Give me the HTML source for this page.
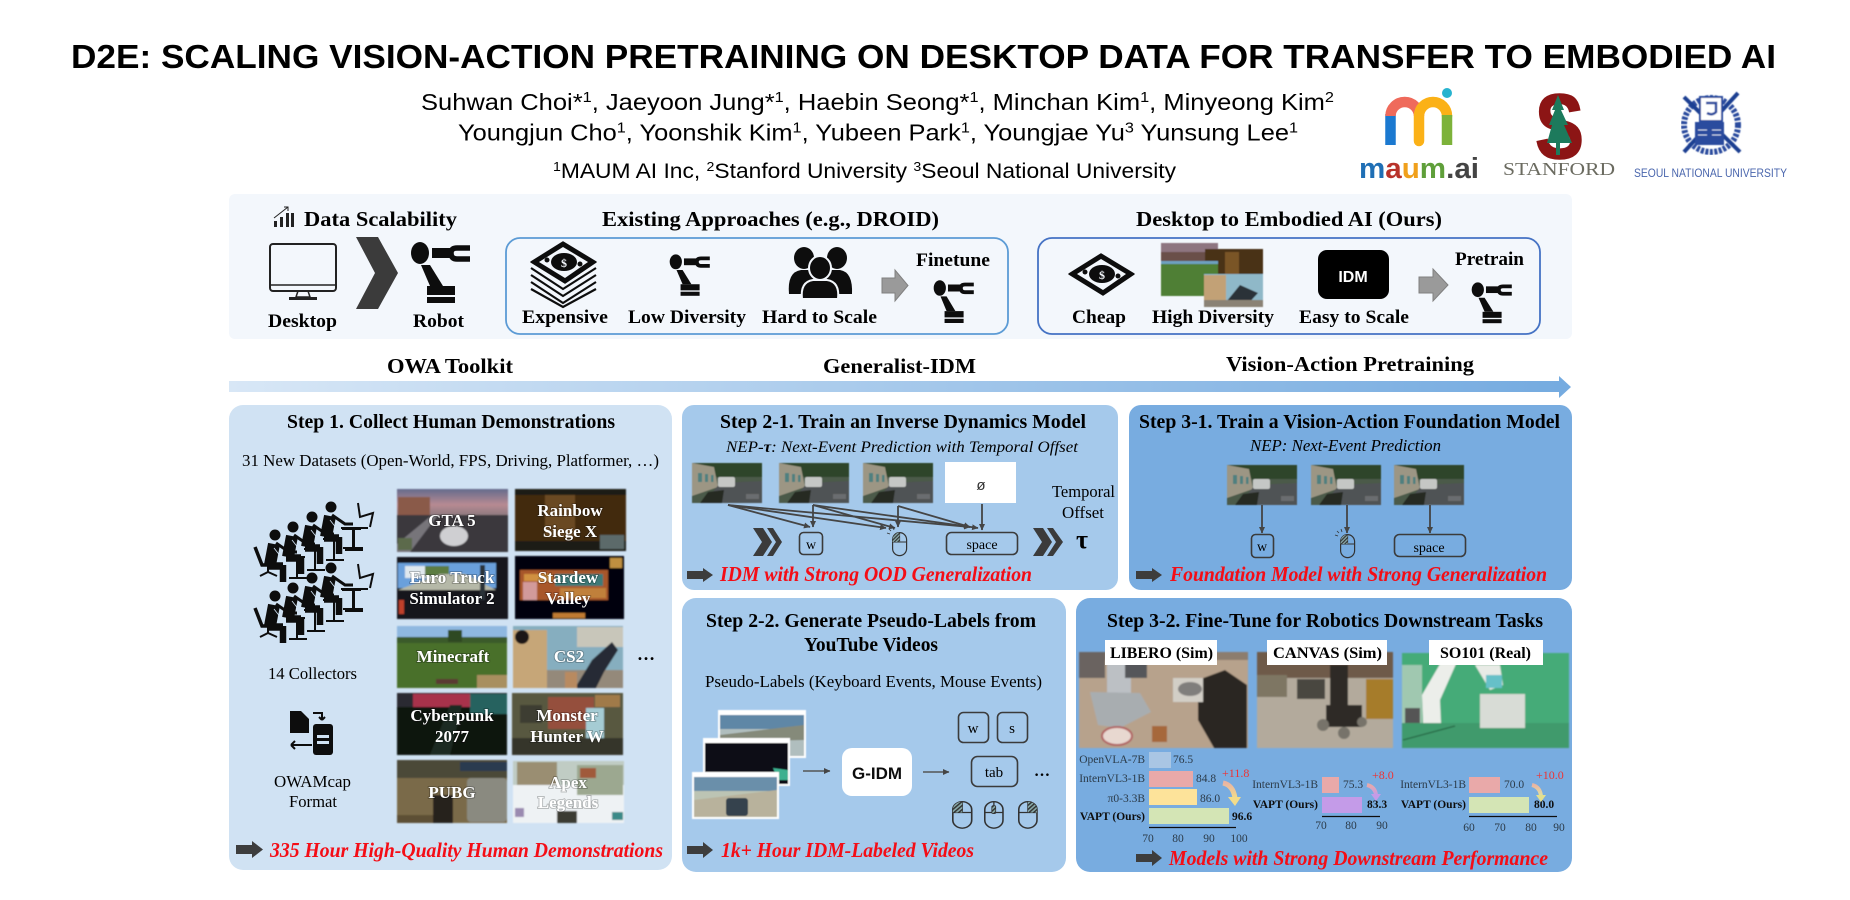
<!DOCTYPE html>
<html><head><meta charset="utf-8"><title>D2E</title>
<style>
html,body{margin:0;padding:0;background:#fff;width:1850px;height:900px;overflow:hidden}
svg{display:block}
text{font-family:"Liberation Serif",serif;fill:#000}
.s{font-family:"Liberation Sans",sans-serif}
.b{font-weight:700}
.h{font-weight:700;font-size:20px}
.l{font-weight:700;font-size:19px}
.n{font-size:17px}
.r{font-weight:700;font-style:italic;font-size:21px;fill:#f40b12}
.t{font-weight:700;font-size:17px;fill:#fff;text-anchor:middle;stroke:rgba(0,0,0,.22);stroke-width:2px;paint-order:stroke}
.c{font-size:11.5px;fill:#2c3a48}
.e{text-anchor:end}
.m{text-anchor:middle}
.d{font-size:12px;fill:#e33;font-weight:400}
.k{fill:none;stroke:#3a3a3a;stroke-width:1.6}
</style></head><body>
<svg width="1850" height="900" viewBox="0 0 1850 900" xmlns="http://www.w3.org/2000/svg">
<defs>
<filter id="bg" filterUnits="userSpaceOnUse" x="0" y="0" width="1850" height="900"><feGaussianBlur stdDeviation=".22"/></filter>
<filter id="bl" x="-5%" y="-5%" width="110%" height="110%"><feGaussianBlur stdDeviation=".7"/></filter>
<filter id="bs" x="-5%" y="-5%" width="110%" height="110%"><feGaussianBlur stdDeviation=".4"/></filter>
<linearGradient id="ga" x1="0" x2="1" y1="0" y2="0"><stop offset="0" stop-color="#d8e7f6"/><stop offset="1" stop-color="#75abe0"/></linearGradient>
<linearGradient id="c1" x1="0" x2="0" y1="0" y2="1"><stop offset="0" stop-color="#e9b5a2"/><stop offset="1" stop-color="#f3dc8a"/></linearGradient>
<linearGradient id="c2" x1="0" x2="0" y1="0" y2="1"><stop offset="0" stop-color="#e9a9a9"/><stop offset="1" stop-color="#c49be8"/></linearGradient>
<linearGradient id="c3" x1="0" x2="0" y1="0" y2="1"><stop offset="0" stop-color="#e9b5a2"/><stop offset="1" stop-color="#dfe3a2"/></linearGradient>
<linearGradient id="gsky" x1="0" x2="0" y1="0" y2="1"><stop offset="0" stop-color="#646a8c"/><stop offset=".6" stop-color="#b78a92"/><stop offset="1" stop-color="#8f7a80"/></linearGradient>
<marker id="ah" markerWidth="7" markerHeight="7" refX="6" refY="3" orient="auto" markerUnits="userSpaceOnUse"><path d="M0 0L6.500 3L0 6z" fill="#444"/></marker>
<pattern id="hp" width="2.5" height="2.5" patternUnits="userSpaceOnUse" patternTransform="rotate(45)"><rect width="2.500" height="2.500" fill="#8aa"/><rect width="1.200" height="2.500" fill="#333"/></pattern>

<g id="rb">
<ellipse cx="10" cy="10" rx="9" ry="11" fill="#111"/>
<rect x="22" y="5" width="18" height="10" fill="#111"/>
<path d="M60 5 H47 Q41 5 41 10 Q41 16 47 16 H60" fill="none" stroke="#111" stroke-width="5.500"/>
<path d="M11 22 L20 22 L33 43 L20 43z" fill="#111"/>
<rect x="17" y="43" width="28" height="9" fill="#111"/>
<rect x="17" y="54" width="28" height="6" fill="#111"/>
</g>

<g id="mo">
<polygon points="32,0 65,20 34,41 0,20" fill="#111" stroke="#111" stroke-width="1.500" stroke-linejoin="round"/>
<polygon points="32,5 57,20 34,36 8,20" fill="#f3f7fc"/>
<ellipse cx="33" cy="20" rx="13" ry="9" fill="#111"/>
<text x="33" y="25" font-size="12" class="m b" style="fill:#f3f7fc">$</text>
<circle cx="16" cy="18" r="2.500" fill="#111"/><circle cx="49" cy="22" r="2.500" fill="#111"/>
</g>

<g id="gf">
<rect width="70" height="40" fill="#4b5a4a"/>
<rect width="70" height="14" fill="#2f452c"/>
<polygon points="0,0 22,4 26,24 0,33" fill="#9c9684"/>
<rect x="6" y="10" width="4" height="9" fill="#4f8080"/><rect x="13" y="11" width="3" height="8" fill="#4f8080"/><rect x="19" y="12" width="2.500" height="7" fill="#4f8080"/>
<polygon points="12,40 28,20 70,18 70,40" fill="#4f5255"/>
<rect x="26" y="14" width="17" height="10" rx="2" fill="#c5c7c5"/>
<polygon points="8,40 16,29 32,27 30,40" fill="#262924"/>
<rect x="54" y="31" width="13" height="5" fill="#6a6d70"/>
</g>

<g id="ms">
<rect x=".6" y=".6" width="14" height="23" rx="7" fill="none" stroke="#333" stroke-width="1.200"/>
<path d="M.6 10 H14.600" stroke="#333" stroke-width="1" fill="none"/>
<path d="M7.600 .6 V10" stroke="#333" stroke-width="1" fill="none"/>
</g>

<g id="wk">
<circle cx="0" cy="0" r="5.500" fill="#111"/>
<path d="M-1 9 L-5 30" fill="none" stroke="#111" stroke-width="12"/>
<path d="M-7 31 H8" fill="none" stroke="#111" stroke-width="7.500"/>
<path d="M8 30 V47" fill="none" stroke="#111" stroke-width="6.500"/>
<path d="M1 8 L14 17 H22" fill="none" stroke="#111" stroke-width="3"/>
<path d="M-1 13 L6 22" fill="none" stroke="#d0e2f3" stroke-width=".8"/>
<path d="M11 22 H30 M22 22 V42 M14 43 H32" fill="none" stroke="#111" stroke-width="2"/>
</g>
<g id="wg">
<use href="#wk" x="20" y="33"/><use href="#wk" x="38" y="25"/><use href="#wk" x="57" y="15"/><use href="#wk" x="76" y="5"/>
<path d="M0 45 L7 63 H16" fill="none" stroke="#111" stroke-width="3.500"/>
<path d="M13 63 V71 M5 74 L13 70 L22 74" fill="none" stroke="#111" stroke-width="2"/>
<path d="M103 1 L105 15 L118 11 L115 25 M113 26 H86 M99 26 V46 M88 46 H108" fill="none" stroke="#111" stroke-width="2"/>
</g>
</defs>

<rect width="1850" height="900" fill="#fff"/>

<!-- Header -->
<text class="s b" x="71" y="68" font-size="33" textLength="1705" lengthAdjust="spacingAndGlyphs" style="fill:#000">D2E: SCALING VISION-ACTION PRETRAINING ON DESKTOP DATA FOR TRANSFER TO EMBODIED AI</text>
<text class="s" x="421" y="110" font-size="23.500" textLength="913" lengthAdjust="spacingAndGlyphs">Suhwan Choi*<tspan font-size="15" dy="-8">1</tspan><tspan dy="8">, Jaeyoon Jung*</tspan><tspan font-size="15" dy="-8">1</tspan><tspan dy="8">, Haebin Seong*</tspan><tspan font-size="15" dy="-8">1</tspan><tspan dy="8">, Minchan Kim</tspan><tspan font-size="15" dy="-8">1</tspan><tspan dy="8">, Minyeong Kim</tspan><tspan font-size="15" dy="-8">2</tspan></text>
<text class="s" x="458" y="140.500" font-size="23.500" textLength="840" lengthAdjust="spacingAndGlyphs">Youngjun Cho<tspan font-size="15" dy="-8">1</tspan><tspan dy="8">, Yoonshik Kim</tspan><tspan font-size="15" dy="-8">1</tspan><tspan dy="8">, Yubeen Park</tspan><tspan font-size="15" dy="-8">1</tspan><tspan dy="8">, Youngjae Yu</tspan><tspan font-size="15" dy="-8">3</tspan><tspan dy="8"> Yunsung Lee</tspan><tspan font-size="15" dy="-8">1</tspan></text>
<text class="s" x="553" y="178" font-size="21" textLength="623" lengthAdjust="spacingAndGlyphs"><tspan font-size="13" dy="-7">1</tspan><tspan dy="7">MAUM AI Inc, </tspan><tspan font-size="13" dy="-7">2</tspan><tspan dy="7">Stanford University  </tspan><tspan font-size="13" dy="-7">3</tspan><tspan dy="7">Seoul National University</tspan></text>

<!-- maum logo -->
<g fill="none" stroke-width="10.500">
<path d="M1390.500 145 V114" stroke="#1b79d0"/>
<path d="M1390.500 116 A14.250 14 0 0 1 1419 116" stroke="#ef6a5b"/>
<path d="M1419 141 V116 A14 14 0 0 1 1447 116" stroke="#fbb117" stroke-linecap="round"/>
<path d="M1447 115 V145" stroke="#7db23a"/>
</g>
<circle cx="1447" cy="93" r="5" fill="#27b3cf"/>
<text class="s b" x="1359" y="178" font-size="29" textLength="120" lengthAdjust="spacingAndGlyphs"><tspan style="fill:#1f6fb5">m</tspan><tspan style="fill:#b8322a">a</tspan><tspan style="fill:#f0a01c">u</tspan><tspan style="fill:#5f9f3a">m</tspan><tspan style="fill:#444">.ai</tspan></text>
<!-- Stanford -->
<text class="s b" x="1535" y="158" font-size="92" textLength="49" lengthAdjust="spacingAndGlyphs" style="fill:#8c1515;stroke:#8c1515;stroke-width:1.500">S</text>
<polygon points="1558,95 1564,110 1561,110 1568,125 1564,125 1572,143 1560,143 1560,155 1556,155 1556,143 1547,143 1552,125 1549,125 1555,110 1552,110" fill="#1d7a5c"/>
<text x="1503" y="175" font-size="18" textLength="112" lengthAdjust="spacingAndGlyphs" style="fill:#6b6b60">STANFORD</text>
<!-- SNU -->
<g filter="url(#bs)">
<ellipse cx="1711" cy="125" rx="27" ry="27" fill="none" stroke="#2c4c9e" stroke-width="6" stroke-dasharray="3 1.500"/>
<path d="M1684 97 L1740 152 M1738 93 L1684 152" stroke="#1f3f92" stroke-width="4"/>
<rect x="1700" y="97" width="22" height="24" fill="#fff" stroke="#2c4c9e" stroke-width="2"/>
<path d="M1706 103 H1716 V112 Q1712 116 1707 113" fill="none" stroke="#2c4c9e" stroke-width="2.500"/>
<rect x="1695" y="122" width="29" height="23" fill="#2c4c9e"/>
<path d="M1698 130 H1707 M1698 135 H1707 M1712 130 H1721 M1712 135 H1721" stroke="#cdd8ee" stroke-width="1"/>
</g>
<text class="s" x="1634" y="177" font-size="12" textLength="153" lengthAdjust="spacingAndGlyphs" style="fill:#4a66ad">SEOUL NATIONAL UNIVERSITY</text>

<g filter="url(#bg)">
<!-- Top panel -->
<rect x="229" y="194" width="1343" height="145" rx="6" fill="#f3f7fc"/>
<g fill="#222"><rect x="274" y="221" width="3" height="6"/><rect x="280" y="217" width="3" height="10"/><rect x="286" y="213" width="3" height="14"/><rect x="291" y="213" width="3" height="14"/></g>
<path d="M274 218 L288 207 M284 207 H288 V211" fill="none" stroke="#222" stroke-width="1"/>
<text class="l" x="304" y="226" font-size="21" textLength="153" lengthAdjust="spacingAndGlyphs" style="font-size:21px">Data Scalability</text>
<text class="l" x="602" y="226" textLength="337" lengthAdjust="spacingAndGlyphs" style="font-size:21px">Existing Approaches (e.g., DROID)</text>
<text class="l" x="1136" y="226" textLength="306" lengthAdjust="spacingAndGlyphs" style="font-size:21px">Desktop to Embodied AI (Ours)</text>

<!-- monitor -->
<rect x="270" y="244" width="66" height="47" rx="3" fill="#f3f7fc" stroke="#222" stroke-width="2"/>
<path d="M270 285 H336" stroke="#222" stroke-width="1.500"/>
<path d="M298 291 L296 297 H310 L308 291" fill="none" stroke="#222" stroke-width="1.500"/>
<rect x="289" y="297" width="28" height="3" fill="#222"/>
<text class="l" x="268" y="327" textLength="69" lengthAdjust="spacingAndGlyphs">Desktop</text>
<polygon points="356,237 378,237 398,273 378,309 356,309 375,273" fill="#3a3a3a"/>
<use href="#rb" x="410" y="243"/>
<text class="l" x="413" y="327" textLength="51" lengthAdjust="spacingAndGlyphs">Robot</text>

<rect x="506" y="238" width="502" height="96" rx="14" fill="none" stroke="#5b9bd5" stroke-width="1.800"/>
<rect x="1038" y="238" width="502" height="96" rx="14" fill="none" stroke="#4472c4" stroke-width="1.800"/>

<!-- Expensive -->
<g fill="none" stroke="#111" stroke-width="2.200">
<polyline points="531,268 563,289 596,268"/><polyline points="531,275 563,296 596,275"/><polyline points="531,282 563,303 596,282"/><polyline points="531,289 563,307 596,289"/>
</g>
<use href="#mo" transform="translate(531,242)"/>
<text class="l" x="522" y="323" textLength="86" lengthAdjust="spacingAndGlyphs">Expensive</text>
<!-- Low diversity -->
<use href="#rb" transform="translate(669,255) scale(.68)"/>
<text class="l" x="628" y="323" textLength="118" lengthAdjust="spacingAndGlyphs">Low Diversity</text>
<!-- people -->
<g fill="#111">
<ellipse cx="804" cy="258" rx="10" ry="11"/><ellipse cx="837" cy="258" rx="10" ry="11"/>
<path d="M789 294 Q787 272 801 270 H840 Q853 272 852 294z"/>
<ellipse cx="820" cy="268" rx="11" ry="12" stroke="#f3f7fc" stroke-width="2"/>
<path d="M802 299 Q800 282 813 280 H827 Q840 282 838 299z" stroke="#f3f7fc" stroke-width="2"/>
</g>
<text class="l" x="762" y="323" textLength="115" lengthAdjust="spacingAndGlyphs">Hard to Scale</text>
<polygon points="882,278 895,278 895,270 908,285.500 895,301 895,293 882,293" fill="#9a9a9a" stroke="#808080"/>
<text class="l" x="916" y="266" textLength="74" lengthAdjust="spacingAndGlyphs">Finetune</text>
<use href="#rb" transform="translate(933,281) scale(.68,.7)"/>

<!-- Cheap -->
<use href="#mo" x="1069" y="254"/>
<text class="l" x="1072" y="323" textLength="54" lengthAdjust="spacingAndGlyphs">Cheap</text>
<g filter="url(#bs)">
<rect x="1161" y="243" width="57" height="20" fill="#8e7580"/><rect x="1161" y="252" width="57" height="11" fill="#6a5048"/>
<rect x="1205" y="249" width="58" height="25" fill="#4a3018"/><rect x="1225" y="252" width="14" height="22" fill="#7a5528"/>
<rect x="1161" y="261" width="57" height="10" fill="#6ea0c0"/><rect x="1161" y="264" width="57" height="32" fill="#4f7f35"/>
<rect x="1204" y="274" width="59" height="33" fill="#8fb8c8"/><rect x="1204" y="275" width="22" height="32" fill="#c2a176"/><polygon points="1222,307 1240,285 1258,293 1245,307" fill="#2a3038"/><rect x="1204" y="300" width="59" height="7" fill="#8a8274"/>
</g>
<text class="l" x="1152" y="323" textLength="122" lengthAdjust="spacingAndGlyphs">High Diversity</text>
<rect x="1318" y="250" width="71" height="49" rx="9" fill="#000"/>
<text class="s b m" x="1353" y="282" font-size="16" style="fill:#fff">IDM</text>
<text class="l" x="1299" y="323" textLength="110" lengthAdjust="spacingAndGlyphs">Easy to Scale</text>
<polygon points="1419,277 1433,277 1433,269 1448,285 1433,301 1433,293 1419,293" fill="#9a9a9a" stroke="#808080"/>
<text class="l" x="1455" y="265" textLength="69" lengthAdjust="spacingAndGlyphs">Pretrain</text>
<use href="#rb" transform="translate(1471,283) scale(.68,.67)"/>

<!-- timeline -->
<text class="l" x="387" y="373" textLength="126" lengthAdjust="spacingAndGlyphs" style="font-size:21px">OWA Toolkit</text>
<text class="l" x="823" y="373" textLength="153" lengthAdjust="spacingAndGlyphs" style="font-size:21px">Generalist-IDM</text>
<text class="l" x="1226" y="371" textLength="248" lengthAdjust="spacingAndGlyphs" style="font-size:21px">Vision-Action Pretraining</text>
<rect x="229" y="381" width="1331" height="11" fill="url(#ga)"/>
<polygon points="1559,376 1571,387 1559,398" fill="#75abe0"/>

<!-- Panels -->
<rect x="229" y="405" width="443" height="465" rx="14" fill="#d0e2f3"/>
<rect x="682" y="405" width="436" height="185" rx="12" fill="#a5c9eb"/>
<rect x="682" y="598" width="384" height="274" rx="14" fill="#a5c9eb"/>
<rect x="1129" y="405" width="443" height="185" rx="12" fill="#78ace0"/>
<rect x="1076" y="598" width="496" height="274" rx="14" fill="#78ace0"/>

<!-- Step 1 -->
<text class="h" x="287" y="428" textLength="328" lengthAdjust="spacingAndGlyphs">Step 1. Collect Human Demonstrations</text>
<text class="n" x="242" y="466" textLength="417" lengthAdjust="spacingAndGlyphs">31 New Datasets (Open-World, FPS, Driving, Platformer, …)</text>
<use href="#wg" x="255" y="502"/>
<use href="#wg" x="255" y="563"/>
<text class="n" x="268" y="679" textLength="89" lengthAdjust="spacingAndGlyphs">14 Collectors</text>
<g fill="#111">
<path d="M290 711 H301 L309 719 V733 H290z"/>
<path d="M291 745 H312 M291 745 L295 741 M291 745 L295 749" stroke="#111" stroke-width="2" fill="none"/>
<path d="M313 713 H322 V720 M322 720 L319 717 M322 720 L325 717" stroke="#111" stroke-width="2" fill="none"/>
<rect x="313" y="724" width="20" height="31" rx="3"/>
<rect x="317" y="735" width="12" height="3" fill="#d0e2f3"/><rect x="317" y="741" width="12" height="3" fill="#d0e2f3"/>
</g>
<text class="n" x="274" y="787" textLength="77" lengthAdjust="spacingAndGlyphs">OWAMcap</text>
<text class="n" x="289" y="807" textLength="48" lengthAdjust="spacingAndGlyphs">Format</text>

<g filter="url(#bl)">
<!-- GTA -->
<rect x="397" y="489" width="111" height="63" fill="#3a383c"/><rect x="397" y="489" width="111" height="26" fill="url(#gsky)"/><rect x="398" y="497" width="32" height="18" fill="#8a5a48"/>
<polygon points="397,552 397,544 432,515 438,515 410,552" fill="#77747a"/><ellipse cx="454" cy="536" rx="14" ry="10" fill="#cfcfd2"/>
<rect x="398" y="538" width="14" height="12" fill="#5c6a4c"/>
<!-- Rainbow -->
<rect x="515" y="489" width="111" height="62" fill="#43290f"/><rect x="515" y="489" width="111" height="6" fill="#1e1a14"/><rect x="545" y="495" width="30" height="42" fill="#6a4a20"/><rect x="515" y="541" width="111" height="10" fill="#1f1a14"/><rect x="600" y="535" width="24" height="14" fill="#5b6a6a"/>
<!-- Euro -->
<rect x="397" y="557" width="111" height="62" fill="#15181c"/><rect x="398" y="563" width="98" height="25" fill="#6aa0dc"/><rect x="405" y="566" width="40" height="12" fill="#dfe8ee"/><rect x="425" y="566" width="24" height="10" fill="#5b7c42"/><polygon points="398,590 440,574 465,574 496,590" fill="#b5b8a8"/><rect x="397" y="592" width="111" height="27" fill="#14161a"/><rect x="480" y="565" width="5" height="35" fill="#2a3038"/><rect x="399" y="600" width="5" height="14" fill="#c0402a"/>
<!-- Stardew -->
<rect x="515" y="556" width="109" height="63" fill="#05050b"/><rect x="520" y="570" width="88" height="30" fill="#a8562a"/><rect x="523" y="582" width="14" height="18" fill="#d29a9a"/><rect x="524" y="574" width="28" height="7" fill="#d09040"/><rect x="555" y="574" width="48" height="12" fill="#3e7a78"/><rect x="560" y="588" width="46" height="10" fill="#c0803a"/><rect x="553" y="613" width="32" height="5" fill="#c07a30"/><rect x="610" y="558" width="12" height="10" fill="#c09040"/>
<!-- Minecraft -->
<rect x="397" y="626" width="110" height="62" fill="#4a6f2c"/><rect x="397" y="626" width="110" height="14" fill="#8fb8e0"/><rect x="397" y="637" width="110" height="6" fill="#3a5a2a"/><rect x="448" y="630" width="14" height="12" fill="#2e4a20"/><rect x="477" y="675" width="30" height="13" fill="#a88f5f"/><rect x="436" y="679" width="22" height="5" fill="#5a3a30"/>
<!-- CS2 -->
<rect x="513" y="626" width="110" height="62" fill="#86aebf"/><rect x="513" y="630" width="34" height="58" fill="#c6a678"/><rect x="577" y="627" width="46" height="20" fill="#c8c6ba"/><rect x="547" y="670" width="76" height="18" fill="#94897a"/><polygon points="575,688 592,660 612,642 618,650 604,672 596,688" fill="#262c34"/><rect x="565" y="672" width="12" height="16" fill="#b88a60"/><circle cx="522" cy="637" r="7" fill="#1a1412"/>
<!-- Cyberpunk -->
<rect x="397" y="693" width="110" height="62" fill="#0c1410"/><rect x="397" y="693" width="110" height="14" fill="#2c2a30"/><rect x="413" y="694" width="58" height="13" fill="#a8304c"/><rect x="470" y="694" width="37" height="20" fill="#25625e"/><polygon points="430,755 450,705 462,705 450,755" fill="#1d2a24"/>
<!-- Monster -->
<rect x="512" y="693" width="111" height="62" fill="#585840"/><rect x="548" y="697" width="46" height="32" fill="#95503e"/><rect x="586" y="708" width="18" height="32" fill="#a5ccd4"/><rect x="595" y="695" width="25" height="12" fill="#a07a4a"/><rect x="512" y="738" width="111" height="17" fill="#35352a"/><rect x="520" y="705" width="22" height="18" fill="#3d3d30"/>
<!-- PUBG -->
<rect x="397" y="760" width="110" height="63" fill="#7a6a48"/><rect x="397" y="760" width="110" height="18" fill="#4c4a38"/><rect x="460" y="762" width="47" height="9" fill="#2a3a50"/><rect x="467" y="778" width="40" height="44" rx="4" fill="#8a8a80"/><rect x="433" y="795" width="20" height="28" fill="#25241e"/><rect x="397" y="815" width="36" height="8" fill="#5d4f36"/>
<!-- Apex -->
<rect x="513" y="761" width="111" height="62" fill="#eef2f4"/><rect x="513" y="761" width="111" height="24" fill="#c0ccc4"/><rect x="517" y="762" width="40" height="23" fill="#9a8e72"/><rect x="577" y="765" width="46" height="30" fill="#9ca890"/><rect x="580" y="768" width="16" height="10" fill="#a05a3a"/><rect x="557" y="811" width="20" height="12" fill="#3a3a30"/><rect x="515" y="808" width="9" height="9" fill="#9a8ab0"/><rect x="612" y="812" width="11" height="8" fill="#3a8a88"/>
</g>
<text class="t" x="452" y="526">GTA 5</text>
<text class="t" x="570" y="516">Rainbow</text><text class="t" x="570" y="537">Siege X</text>
<text class="t" x="452" y="583">Euro Truck</text><text class="t" x="452" y="604">Simulator 2</text>
<text class="t" x="568" y="583">Stardew</text><text class="t" x="568" y="604">Valley</text>
<text class="t" x="453" y="662">Minecraft</text><text class="t" x="569" y="662">CS2</text>
<text class="t" x="452" y="721">Cyberpunk</text><text class="t" x="452" y="742">2077</text>
<text class="t" x="567" y="721">Monster</text><text class="t" x="567" y="742">Hunter W</text>
<text class="t" x="452" y="798">PUBG</text>
<text class="t" x="568" y="788">Apex</text><text class="t" x="568" y="808">Legends</text>
<text class="b m" x="646" y="660" font-size="18">…</text>
<polygon points="236,845 252,845 252,841 263,849.500 252,858 252,854 236,854" fill="#3c3c3c"/>
<text class="r" x="270" y="857" textLength="393" lengthAdjust="spacingAndGlyphs">335 Hour High-Quality Human Demonstrations</text>

<!-- Step 2-1 -->
<text class="h" x="720" y="428" textLength="366" lengthAdjust="spacingAndGlyphs">Step 2-1. Train an Inverse Dynamics Model</text>
<text class="n" x="726" y="452" font-style="italic" textLength="352" lengthAdjust="spacingAndGlyphs" style="font-size:16px">NEP-<tspan font-weight="700">τ</tspan>: Next-Event Prediction with Temporal Offset</text>
<g filter="url(#bs)">
<use href="#gf" x="692" y="463"/><use href="#gf" x="779" y="463"/><use href="#gf" x="863" y="463"/>
</g>
<rect x="945" y="462" width="71" height="41" fill="#fff"/>
<text class="s m" x="981" y="490" font-size="15" style="fill:#333">ø</text>
<g fill="none" stroke="#444" stroke-width="1.800">
<path d="M728 505 L810 527" marker-end="url(#ah)"/><path d="M728 505 L886 528" marker-end="url(#ah)"/><path d="M728 505 L970 527" marker-end="url(#ah)"/>
<path d="M813 505 V527" marker-end="url(#ah)"/><path d="M813 505 L895 528" marker-end="url(#ah)"/><path d="M813 505 L978 528" marker-end="url(#ah)"/>
<path d="M898 506 V527" marker-end="url(#ah)"/><path d="M898 506 L970 527" marker-end="url(#ah)"/>
<path d="M982 504 V530" marker-end="url(#ah)"/>
</g>
<g fill="#3a3a3a">
<polygon points="753,528 763,528 772,542 763,556 753,556 762,542"/><polygon points="767,528 773,528 782,542 773,556 767,556 776,542"/>
<polygon points="1033,528 1043,528 1052,542 1043,556 1033,556 1042,542"/><polygon points="1047,528 1053,528 1063,542 1053,556 1047,556 1056,542"/>
</g>
<rect class="k" x="799.500" y="532.500" width="23" height="22" rx="4"/>
<text class="m" x="811" y="549" font-size="14">w</text>
<use href="#ms" x="892" y="532"/><path d="M892.600 542 V540 A7 7 0 0 1 899.600 532.600 V542z" fill="url(#hp)"/>
<path d="M889 529 L891 531 M893 527 L894 530 M887 533 L890 534" stroke="#333" stroke-width=".8"/>
<rect class="k" x="946.500" y="532.500" width="71" height="22" rx="5"/>
<text class="m" x="982" y="549" font-size="14">space</text>
<text class="n" x="1052" y="497" textLength="63" lengthAdjust="spacingAndGlyphs">Temporal</text>
<text class="n" x="1062" y="518" textLength="42" lengthAdjust="spacingAndGlyphs">Offset</text>
<text class="b m" x="1082" y="548" font-size="26">τ</text>
<polygon points="687,571 703,571 703,568 713,575 703,582 703,579 687,579" fill="#3c3c3c"/>
<text class="r" x="720" y="581" textLength="312" lengthAdjust="spacingAndGlyphs">IDM with Strong OOD Generalization</text>

<!-- Step 2-2 -->
<text class="h" x="706" y="627" textLength="330" lengthAdjust="spacingAndGlyphs">Step 2-2. Generate Pseudo-Labels from</text>
<text class="h" x="804" y="651" textLength="134" lengthAdjust="spacingAndGlyphs">YouTube Videos</text>
<text class="n" x="705" y="687" textLength="337" lengthAdjust="spacingAndGlyphs">Pseudo-Labels (Keyboard Events, Mouse Events)</text>
<g filter="url(#bs)">
<rect x="718" y="710" width="88" height="48" fill="#fff"/><rect x="720" y="715" width="84" height="41" fill="#b0bebe"/><rect x="720" y="715" width="84" height="14" fill="#5f87a6"/><polygon points="720,735 804,725 804,740 720,742" fill="#858a7a"/>
<rect x="703" y="738" width="87" height="48" fill="#fff"/><rect x="705" y="743" width="83" height="41" fill="#0b0c12"/><polygon points="773,768 788,770 788,780 778,780" fill="#3cb090"/>
<rect x="692" y="772" width="87" height="47" fill="#fff"/><rect x="694" y="777" width="83" height="40" fill="#bcc4b4"/><rect x="694" y="777" width="83" height="14" fill="#6a8faa"/><polygon points="694,800 777,790 777,817 694,817" fill="#b8b29c"/><rect x="726" y="798" width="22" height="18" rx="3" fill="#36424e"/>
</g>
<g fill="none" stroke="#555" stroke-width="1.500"><path d="M803 771 H830" marker-end="url(#ah)"/><path d="M923 772 H949" marker-end="url(#ah)"/></g>
<rect x="842" y="748" width="70" height="48" rx="10" fill="#fff"/>
<text class="s b m" x="877" y="779" font-size="17" style="fill:#111">G-IDM</text>
<rect class="k" x="958.500" y="712.500" width="30" height="30" rx="5"/>
<text class="m" x="973" y="733" font-size="15">w</text>
<rect class="k" x="997.500" y="712.500" width="30" height="30" rx="5"/>
<text class="m" x="1012" y="733" font-size="15">s</text>
<rect class="k" x="971.500" y="756.500" width="46" height="30" rx="6"/>
<text class="m" x="994" y="777" font-size="15">tab</text>
<text class="b m" x="1042" y="776" font-size="16">…</text>
<g transform="translate(952,801) scale(1.350,1.150)"><use href="#ms"/><path d="M.6 10 V8 A7 7 0 0 1 7.600 .6 V10z" fill="url(#hp)"/></g>
<g transform="translate(984,801) scale(1.300,1.150)"><use href="#ms"/><rect x="6" y="4" width="3" height="7" rx="1" fill="url(#hp)" stroke="#333" stroke-width=".6"/></g>
<g transform="translate(1018,801) scale(1.300,1.150)"><use href="#ms"/><path d="M14.600 10 V8 A7 7 0 0 0 7.600 .6 V10z" fill="url(#hp)"/></g>
<polygon points="687,846 703,846 703,842 713,850 703,858 703,854 687,854" fill="#3c3c3c"/>
<text class="r" x="721" y="857" textLength="253" lengthAdjust="spacingAndGlyphs">1k+ Hour IDM-Labeled Videos</text>

<!-- Step 3-1 -->
<text class="h" x="1139" y="428" textLength="421" lengthAdjust="spacingAndGlyphs">Step 3-1. Train a Vision-Action Foundation Model</text>
<text class="n" x="1250" y="451" font-style="italic" textLength="191" lengthAdjust="spacingAndGlyphs">NEP: Next-Event Prediction</text>
<g filter="url(#bs)"><use href="#gf" x="1227" y="465"/><use href="#gf" x="1311" y="465"/><use href="#gf" x="1394" y="465"/></g>
<g fill="none" stroke="#444" stroke-width="1.800"><path d="M1262 505 V533" marker-end="url(#ah)"/><path d="M1347 505 V533" marker-end="url(#ah)"/><path d="M1430 505 V533" marker-end="url(#ah)"/></g>
<rect class="k" x="1251.500" y="534.500" width="22" height="23" rx="4"/>
<text class="m" x="1262" y="551" font-size="14">w</text>
<use href="#ms" x="1340" y="534"/><path d="M1340.600 544 V542 A7 7 0 0 1 1347.600 534.600 V544z" fill="url(#hp)"/>
<path d="M1337 531 L1339 533 M1341 529 L1342 532 M1335 535 L1338 536" stroke="#333" stroke-width=".8"/>
<rect class="k" x="1394.500" y="534.500" width="71" height="22" rx="5"/>
<text class="m" x="1429" y="552" font-size="14">space</text>
<polygon points="1136,571 1152,571 1152,568 1162,575 1152,582 1152,579 1136,579" fill="#3c3c3c"/>
<text class="r" x="1170" y="581" textLength="377" lengthAdjust="spacingAndGlyphs">Foundation Model with Strong Generalization</text>

<!-- Step 3-2 -->
<text class="h" x="1107" y="627" textLength="436" lengthAdjust="spacingAndGlyphs">Step 3-2. Fine-Tune for Robotics Downstream Tasks</text>
<g filter="url(#bl)">
<!-- LIBERO -->
<rect x="1079" y="652" width="169" height="96" fill="#b7a28c"/><rect x="1079" y="652" width="169" height="8" fill="#8c7d6e"/><rect x="1079" y="652" width="26" height="26" fill="#6b6460"/>
<polygon points="1198,680 1225,670 1247,685 1247,748 1214,748 1198,720" fill="#2a2522"/>
<rect x="1173" y="678" width="30" height="24" fill="#d2cec6"/><ellipse cx="1190" cy="689" rx="12" ry="7" fill="#807e7c"/>
<rect x="1107" y="656" width="24" height="42" rx="5" fill="#bcc0c4"/><rect x="1125" y="652" width="22" height="26" fill="#55565a"/><polygon points="1090,692 1140,693 1151,712 1120,728 1098,725" fill="#a8adb0"/><ellipse cx="1117" cy="736" rx="15" ry="9" fill="#e8d8d0" stroke="#b06060" stroke-width="2"/><rect x="1152" y="726" width="15" height="16" fill="#a6683a"/>
<!-- CANVAS -->
<rect x="1257" y="652" width="136" height="96" fill="#b3aa9c"/><rect x="1257" y="652" width="136" height="26" fill="#6e5a48"/><rect x="1257" y="675" width="30" height="22" fill="#7e7664"/><rect x="1366" y="679" width="27" height="40" fill="#a67c2c"/><rect x="1297" y="679" width="28" height="20" fill="#4a4640"/>
<rect x="1330" y="665" width="18" height="44" fill="#2e2a26"/><rect x="1326" y="705" width="36" height="22" fill="#2e2a26"/><circle cx="1323" cy="725" r="6" fill="#77736a"/><circle cx="1344" cy="733" r="6" fill="#77736a"/><circle cx="1362" cy="722" r="5" fill="#77736a"/>
<!-- SO101 -->
<rect x="1402" y="653" width="167" height="95" fill="#45ab78"/><rect x="1402" y="665" width="20" height="58" fill="#a0c8b0"/><rect x="1402" y="723" width="167" height="25" fill="#3f9a6c"/>
<rect x="1480" y="694" width="45" height="34" fill="#d8dcd6"/>
<polygon points="1422,695 1440,664 1456,664 1440,700 1441,723 1423,723" fill="#eceeea"/><polygon points="1475,665 1500,665 1503,685 1490,690" fill="#e8ebe6"/><rect x="1486" y="675" width="16" height="13" fill="#66c0c8"/><rect x="1405" y="708" width="15" height="15" fill="#555"/>
<path d="M1403 740 L1455 726" stroke="#1f5a3a" stroke-width="1"/>
</g>
<rect x="1105" y="640" width="112" height="25" fill="#fff"/><rect x="1267" y="640" width="120" height="25" fill="#fff"/><rect x="1429" y="640" width="114" height="25" fill="#fff"/>
<text class="b" x="1110" y="658" font-size="16" textLength="103" lengthAdjust="spacingAndGlyphs">LIBERO (Sim)</text>
<text class="b" x="1273" y="658" font-size="16" textLength="109" lengthAdjust="spacingAndGlyphs">CANVAS (Sim)</text>
<text class="b" x="1440" y="658" font-size="16" textLength="91" lengthAdjust="spacingAndGlyphs">SO101 (Real)</text>

<!-- Chart 1 -->
<rect x="1149" y="752" width="22" height="16" fill="#a9c6e4"/><rect x="1149" y="771" width="44" height="16" fill="#e9a9a9"/><rect x="1149" y="789" width="48" height="16" fill="#fde39a"/><rect x="1149" y="808" width="80" height="16" fill="#d4e5b5"/>
<text class="c e" x="1145" y="763">OpenVLA-7B</text><text class="c e" x="1145" y="782">InternVL3-1B</text><text class="c e" x="1145" y="802">π0-3.3B</text><text class="c e b" x="1145" y="820" style="fill:#111">VAPT (Ours)</text>
<text class="c" x="1173" y="763">76.5</text><text class="c" x="1196" y="782">84.8</text><text class="c" x="1200" y="802">86.0</text><text class="c b" x="1232" y="820" style="fill:#111">96.6</text>
<path d="M1149 827.500 H1236" stroke="#111" stroke-width="1.300"/>
<text class="c m" x="1148" y="842">70</text><text class="c m" x="1178" y="842">80</text><text class="c m" x="1209" y="842">90</text><text class="c m" x="1239" y="842">100</text>
<text class="d" x="1222" y="777">+11.8</text>
<path d="M1223 783 Q1233 785 1235 798" fill="none" stroke="url(#c1)" stroke-width="5"/><polygon points="1228,797 1241,797 1235,806" fill="#f3dc8a"/>
<!-- Chart 2 -->
<rect x="1322" y="777" width="17" height="16" fill="#e9a9a9"/><rect x="1322" y="797" width="40" height="16" fill="#c49be8"/>
<text class="c e" x="1318" y="788">InternVL3-1B</text><text class="c e b" x="1318" y="808" style="fill:#111">VAPT (Ours)</text>
<text class="c" x="1343" y="788">75.3</text><text class="c b" x="1367" y="808" style="fill:#111">83.3</text>
<path d="M1322 816.500 H1380" stroke="#111" stroke-width="1.300"/>
<text class="c m" x="1321" y="829">70</text><text class="c m" x="1351" y="829">80</text><text class="c m" x="1382" y="829">90</text>
<text class="d" x="1372" y="779">+8.0</text>
<path d="M1367 785 Q1375 787 1376 795" fill="none" stroke="url(#c2)" stroke-width="4"/><polygon points="1371,794 1381,794 1376,801" fill="#c49be8"/>
<!-- Chart 3 -->
<rect x="1469" y="777" width="31" height="16" fill="#e9a9a9"/><rect x="1469" y="797" width="60" height="16" fill="#d4e5b5"/>
<text class="c e" x="1466" y="788">InternVL3-1B</text><text class="c e b" x="1466" y="808" style="fill:#111">VAPT (Ours)</text>
<text class="c" x="1504" y="788">70.0</text><text class="c b" x="1534" y="808" style="fill:#111">80.0</text>
<path d="M1469 816.500 H1557" stroke="#111" stroke-width="1.300"/>
<text class="c m" x="1469" y="831">60</text><text class="c m" x="1500" y="831">70</text><text class="c m" x="1531" y="831">80</text><text class="c m" x="1559" y="831">90</text>
<text class="d" x="1536" y="779">+10.0</text>
<path d="M1532 785 Q1540 787 1541 796" fill="none" stroke="url(#c3)" stroke-width="4"/><polygon points="1536,795 1546,795 1541,802" fill="#e3e08f"/>

<polygon points="1136,854 1152,854 1152,850 1162,858 1152,866 1152,862 1136,862" fill="#3c3c3c"/>
<text class="r" x="1169" y="865" textLength="379" lengthAdjust="spacingAndGlyphs">Models with Strong Downstream Performance</text>
</g>
</svg>
</body></html>
